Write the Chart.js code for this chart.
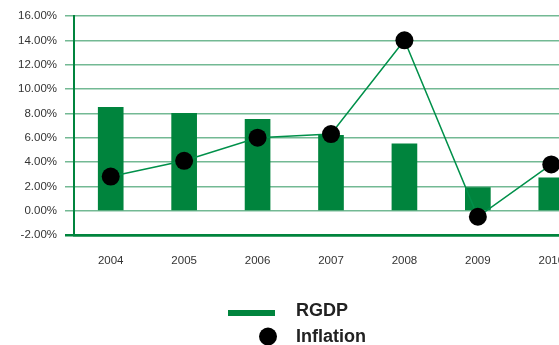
<!DOCTYPE html>
<html>
<head>
<meta charset="utf-8">
<script src="https://cdn.jsdelivr.net/npm/chart.js@4/dist/chart.umd.min.js"></script>
<style>
  html, body { margin: 0; padding: 0; background: #fff; overflow: hidden; }
  #wrap { width: 597px; height: 345px; }
</style>
</head>
<body>
<div id="wrap"><canvas id="myChart" width="597" height="345"></canvas></div>
<script>
const years = ['2004', '2005', '2006', '2007', '2008', '2009', '2010'];
const rgdp = [8.5, 8.0, 7.5, 6.2, 5.5, 1.9, 2.7];
const inflation = [2.8, 4.1, 6.0, 6.3, 14.0, -0.5, 3.8];
const yTicks = [-2, 0, 2, 4, 6, 8, 10, 12, 14, 16];

const darkGreen = '#00843d';
const gridGreen = 'rgba(0, 128, 60, 0.55)';
const textColor = '#333333';

// legend drawn under the plot, one entry per row
const stackedLegend = {
  id: 'stacked_legend',
  afterDraw: (chart) => {
    const ctx = chart.ctx;
    const sets = chart.data.datasets;
    ctx.save();
    ctx.font = 'bold 18px "Liberation Sans", Arial, sans-serif';
    ctx.textBaseline = 'middle';

    // RGDP: thick bar-coloured stroke
    ctx.fillStyle = sets[1].backgroundColor;
    ctx.fillRect(228, 310, 47, 6);
    ctx.fillStyle = '#222222';
    ctx.fillText(sets[1].label, 296, 311);

    // Inflation: round marker
    ctx.beginPath();
    ctx.arc(268, 336.5, 9, 0, Math.PI * 2);
    ctx.fillStyle = sets[0].pointBackgroundColor;
    ctx.fill();
    ctx.fillStyle = '#222222';
    ctx.fillText(sets[0].label, 296, 337);
    ctx.restore();
  }
};

const data = {
  labels: years,
  datasets: [{
    type: 'line',
    label: 'Inflation',
    data: inflation,
    borderColor: '#00904a',
    borderWidth: 1.5,
    pointRadius: 9,
    pointHoverRadius: 9,
    pointBackgroundColor: '#000000',
    pointBorderWidth: 0,
    tension: 0,
    order: 0
  }, {
    type: 'bar',
    label: 'RGDP',
    data: rgdp,
    backgroundColor: darkGreen,
    barThickness: 25,
    order: 1
  }]
};

const scales = {
  x: {
    grid: { display: false },
    border: { display: true, color: darkGreen, width: 2.5 },
    ticks: {
      color: textColor,
      padding: 11,
      maxRotation: 0,
      font: { family: '"Liberation Sans", Arial, sans-serif', size: 11.5 }
    },
    afterFit: (scale) => { scale.height = 110; }
  },
  y: {
    min: -2,
    max: 16,
    afterBuildTicks: (scale) => {
      scale.ticks = yTicks.map(v => ({ value: v }));
    },
    grid: {
      color: (c) => c.tick && c.tick.value === -2 ? darkGreen : gridGreen,
      lineWidth: (c) => c.tick && c.tick.value === -2 ? 2.5 : 1.5,
      tickLength: 9
    },
    border: { display: true, color: darkGreen, width: 2 },
    ticks: {
      color: textColor,
      padding: 8,
      font: { family: '"Liberation Sans", Arial, sans-serif', size: 11.5 },
      callback: (v) => v.toFixed(2) + '%'
    },
    afterFit: (scale) => { scale.width = 74; }
  }
};

const config = {
  data: data,
  options: {
    responsive: false,
    animation: false,
    layout: { padding: { top: 16, left: 0, right: 0, bottom: 0 } },
    scales: scales,
    plugins: {
      legend: { display: false },
      tooltip: { enabled: false }
    }
  },
  plugins: [stackedLegend]
};

const myChart = new Chart(document.getElementById('myChart'), config);
</script>
</body>
</html>
